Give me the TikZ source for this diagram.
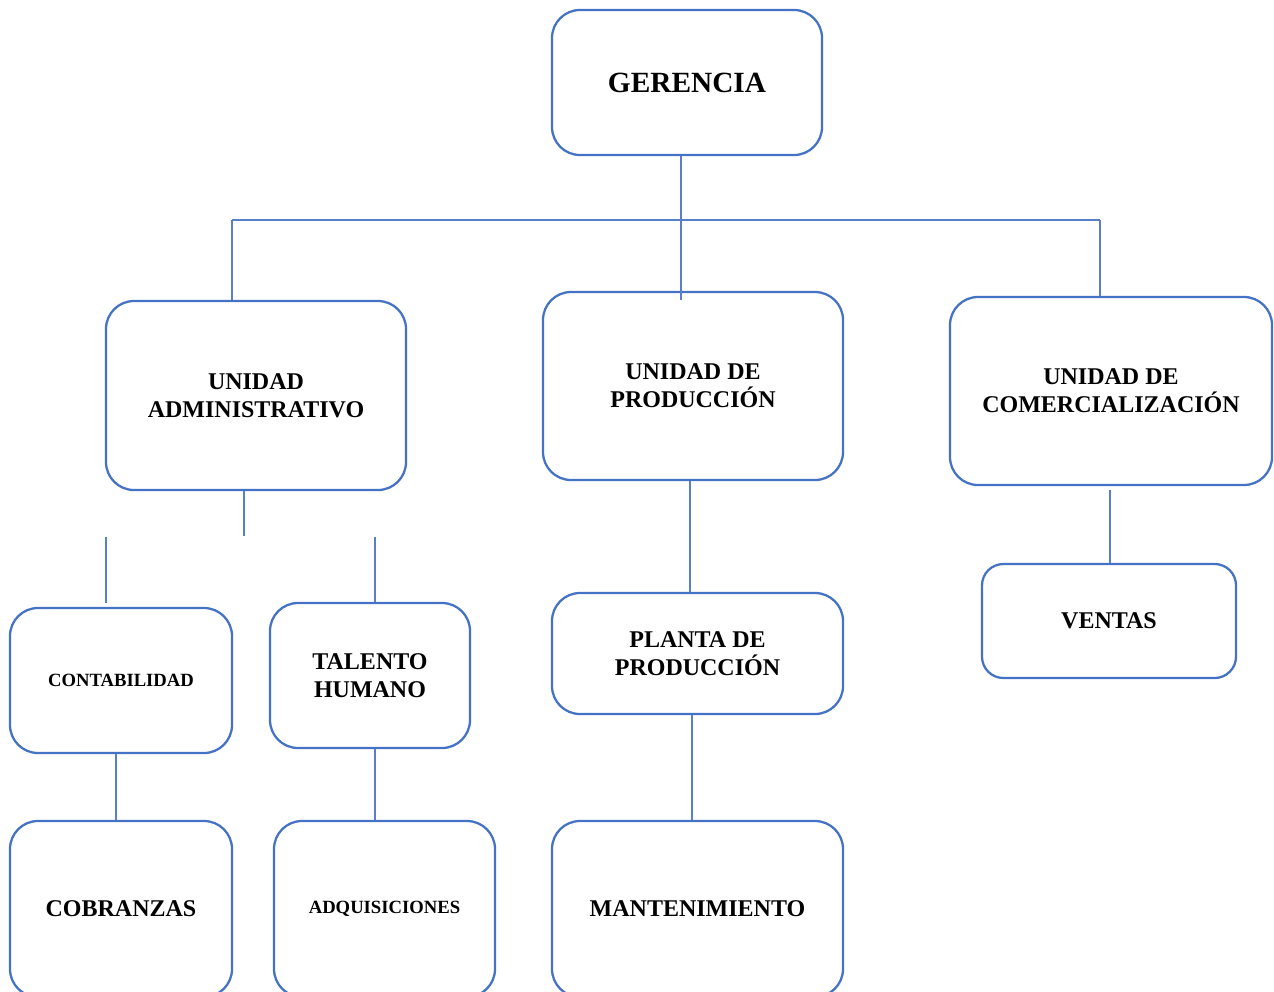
\documentclass[tikz,border=0pt]{standalone}
\usepackage{fontspec}
\usetikzlibrary{calc}
\setmainfont{Liberation Serif}
\definecolor{orgblue}{HTML}{4472C4}
\begin{document}
\begin{tikzpicture}[x=0.75pt,y=-0.75pt,
  box/.style={draw=orgblue, line width=1.7pt, rounded corners=21pt, align=center,
    inner sep=0pt, font=\bfseries\fontsize{18}{21}\selectfont},
  small/.style={font=\bfseries\fontsize{14}{17}\selectfont},
  sz/.style 2 args={minimum width=#1*0.75pt, minimum height=#2*0.75pt},
  link/.style={draw=orgblue!90, line width=0.8pt}]
\useasboundingbox (0,0) rectangle (1274,992);

% boxes
\node[box, sz={270}{145}, font=\bfseries\fontsize{22}{26}\selectfont] (ger) at (687,82.5) {GERENCIA};
\node[box, sz={300}{189}] (adm)  at (256,395.5) {UNIDAD\\ADMINISTRATIVO};
\node[box, sz={300}{188}] (prod) at (693,386)   {UNIDAD DE\\PRODUCCIÓN};
\node[box, sz={322}{188}] (com)  at (1111,391)  {UNIDAD DE\\COMERCIALIZACIÓN};
\node[box, small, sz={222}{145}] (cont) at (121,680.5) {CONTABILIDAD};
\node[box, sz={200}{145}] (tal)  at (370,675.5) {TALENTO\\HUMANO};
\node[box, sz={291}{121}] (plan) at (697.5,653.5) {PLANTA DE\\PRODUCCIÓN};
\node[box, sz={254}{114}, rounded corners=16pt] (ven) at (1109,621) {VENTAS};
\node[box, sz={222}{176}] (cob)  at (121,909)   {COBRANZAS};
\node[box, small, sz={221}{176}] (adq) at (384.5,909) {ADQUISICIONES};
\node[box, sz={291}{176}] (man)  at (697.5,909) {MANTENIMIENTO};

% connector anchors
\coordinate (trunk) at (681,300);
\coordinate (hL) at (232,220);
\coordinate (hR) at (1100,220);
\coordinate (a0) at (244,536);
\coordinate (a1) at (106,537);
\coordinate (a2) at (375,537);
\coordinate (c1) at (116,0);
\coordinate (p1) at (690,0);
\coordinate (p2) at (692,0);
\coordinate (v1) at (1110,490);

% top level
\draw[link] (trunk |- ger.south) -- (trunk);
\draw[link] (hL) -- (hR);
\draw[link] (hL) -- (hL |- adm.north);
\draw[link] (hR) -- (hR |- com.north);

% administrative branch
\draw[link] (a0 |- adm.south) -- (a0);
\draw[link] (a1) -- ($(a1 |- cont.north)+(0,-4)$);
\draw[link] (a2) -- (a2 |- tal.north);
\draw[link] (c1 |- cont.south) -- (c1 |- cob.north);
\draw[link] (a2 |- tal.south) -- (a2 |- adq.north);

% production branch
\draw[link] (p1 |- prod.south) -- (p1 |- plan.north);
\draw[link] (p2 |- plan.south) -- (p2 |- man.north);

% commercial branch
\draw[link] (v1) -- (v1 |- ven.north);
\end{tikzpicture}
\end{document}
